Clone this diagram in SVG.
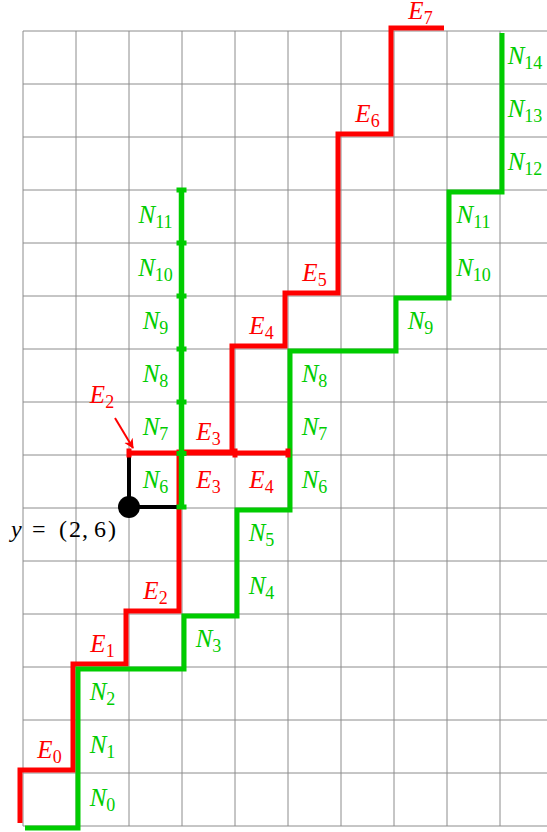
<svg xmlns="http://www.w3.org/2000/svg" width="547" height="832" viewBox="0 0 547 832">
<style>
.grid line{stroke:#8c8c8c;stroke-width:1}
.red{fill:none;stroke:#ff0000;stroke-width:5;stroke-linejoin:miter}
.grn{fill:none;stroke:#00cc00;stroke-width:5;stroke-linejoin:miter}
.blk{fill:none;stroke:#000;stroke-width:4}
text{font-family:"Liberation Serif","Times New Roman","DejaVu Serif",serif}
.lab{font-size:25px;font-style:italic;text-anchor:middle}
.sub{font-size:18px;font-style:normal}
.r{fill:#ff0000}
.g{fill:#00cc00}
.rm{fill:#ff0000}
.gm{fill:#00cc00}
</style>
<defs>
<marker id="ah" viewBox="0 0 10 10" refX="9" refY="5" markerWidth="5" markerHeight="5" orient="auto" markerUnits="strokeWidth">
<path d="M0,0 L10,5 L0,10 L3,5 Z" fill="#ff0000"/>
</marker>
</defs>
<rect width="547" height="832" fill="#fff"/>
<g id="grid" class="grid">
<line x1="23" y1="31" x2="23" y2="826"/>
<line x1="76" y1="31" x2="76" y2="826"/>
<line x1="129" y1="31" x2="129" y2="826"/>
<line x1="182" y1="31" x2="182" y2="826"/>
<line x1="235" y1="31" x2="235" y2="826"/>
<line x1="288" y1="31" x2="288" y2="826"/>
<line x1="341" y1="31" x2="341" y2="826"/>
<line x1="394" y1="31" x2="394" y2="826"/>
<line x1="447" y1="31" x2="447" y2="826"/>
<line x1="500" y1="31" x2="500" y2="826"/>
<line x1="23" y1="31" x2="547" y2="31"/>
<line x1="23" y1="84" x2="547" y2="84"/>
<line x1="23" y1="137" x2="547" y2="137"/>
<line x1="23" y1="190" x2="547" y2="190"/>
<line x1="23" y1="243" x2="547" y2="243"/>
<line x1="23" y1="296" x2="547" y2="296"/>
<line x1="23" y1="349" x2="547" y2="349"/>
<line x1="23" y1="402" x2="547" y2="402"/>
<line x1="23" y1="455" x2="547" y2="455"/>
<line x1="23" y1="508" x2="547" y2="508"/>
<line x1="23" y1="561" x2="547" y2="561"/>
<line x1="23" y1="614" x2="547" y2="614"/>
<line x1="23" y1="667" x2="547" y2="667"/>
<line x1="23" y1="720" x2="547" y2="720"/>
<line x1="23" y1="773" x2="547" y2="773"/>
<line x1="23" y1="826" x2="547" y2="826"/>
</g>
<g id="connectors">
<path id="red-path" class="red" d="M20,823 V770 H73 V664 H126 V611 H179 V452 H232 V346 H285 V293 H338 V134 H391 V28 H444"/>
<path id="green-path" class="grn" d="M25,828 H78 V669 H184 V616 H237 V510 H290 V351 H396 V298 H449 V192 H502 V33"/>
<path id="black-path" class="blk" d="M129,453 V507 H181"/>
<g id="red-bar">
<line x1="129" y1="453" x2="288" y2="453" stroke="#ff0000" stroke-width="5"/>
<rect class="rm" x="126.5" y="448.5" width="5" height="9"/>
<rect class="rm" x="232.5" y="448.5" width="5" height="9"/>
<rect class="rm" x="285.5" y="448.5" width="5" height="9"/>
</g>
<g id="green-column">
<line x1="181.5" y1="190" x2="181.5" y2="507" stroke="#00cc00" stroke-width="5.5"/>
<rect class="gm" x="176.5" y="187.5" width="10" height="5"/>
<rect class="gm" x="176.5" y="240.5" width="10" height="5"/>
<rect class="gm" x="176.5" y="293.5" width="10" height="5"/>
<rect class="gm" x="176.5" y="346.5" width="10" height="5"/>
<rect class="gm" x="176.5" y="399.5" width="10" height="5"/>
<rect class="gm" x="176.5" y="451" width="10" height="5"/>
<rect class="gm" x="176.5" y="504.5" width="10" height="5"/>
</g>
<line id="e2-arrow" x1="115" y1="418" x2="133" y2="448" stroke="#ff0000" stroke-width="2" marker-end="url(#ah)"/>
</g>
<g id="point-y">
<circle cx="129" cy="507" r="11" fill="#000"/>
<text y="537" font-size="24"><tspan x="11" font-style="italic">y</tspan><tspan x="32">=</tspan><tspan x="59">(</tspan><tspan x="69">2</tspan><tspan x="82">,</tspan><tspan x="94">6</tspan><tspan x="108">)</tspan></text>
</g>
<g id="e-labels" class="r">
<text class="lab" x="49.5" y="758">E<tspan class="sub" dy="5">0</tspan></text>
<text class="lab" x="102.5" y="652">E<tspan class="sub" dy="5">1</tspan></text>
<text class="lab" x="155.5" y="599">E<tspan class="sub" dy="5">2</tspan></text>
<text class="lab" x="208.5" y="440">E<tspan class="sub" dy="5">3</tspan></text>
<text class="lab" x="261.5" y="334">E<tspan class="sub" dy="5">4</tspan></text>
<text class="lab" x="314.5" y="281">E<tspan class="sub" dy="5">5</tspan></text>
<text class="lab" x="367.5" y="122">E<tspan class="sub" dy="5">6</tspan></text>
<text class="lab" x="420.5" y="19">E<tspan class="sub" dy="5">7</tspan></text>
<text class="lab" x="208.5" y="488">E<tspan class="sub" dy="5">3</tspan></text>
<text class="lab" x="261.5" y="488">E<tspan class="sub" dy="5">4</tspan></text>
<text class="lab" x="102" y="403">E<tspan class="sub" dy="5">2</tspan></text>
</g>
<g id="n-labels" class="g">
<text class="lab" x="102.5" y="806">N<tspan class="sub" dy="5">0</tspan></text>
<text class="lab" x="102.5" y="753">N<tspan class="sub" dy="5">1</tspan></text>
<text class="lab" x="102.5" y="700">N<tspan class="sub" dy="5">2</tspan></text>
<text class="lab" x="208.5" y="647">N<tspan class="sub" dy="5">3</tspan></text>
<text class="lab" x="261.5" y="594">N<tspan class="sub" dy="5">4</tspan></text>
<text class="lab" x="261.5" y="541">N<tspan class="sub" dy="5">5</tspan></text>
<text class="lab" x="314.5" y="488">N<tspan class="sub" dy="5">6</tspan></text>
<text class="lab" x="314.5" y="435">N<tspan class="sub" dy="5">7</tspan></text>
<text class="lab" x="314.5" y="382">N<tspan class="sub" dy="5">8</tspan></text>
<text class="lab" x="420.5" y="329">N<tspan class="sub" dy="5">9</tspan></text>
<text class="lab" x="473.5" y="276">N<tspan class="sub" dy="5">10</tspan></text>
<text class="lab" x="473.5" y="223">N<tspan class="sub" dy="5">11</tspan></text>
<text class="lab" x="525" y="170">N<tspan class="sub" dy="5">12</tspan></text>
<text class="lab" x="525" y="117">N<tspan class="sub" dy="5">13</tspan></text>
<text class="lab" x="525" y="64">N<tspan class="sub" dy="5">14</tspan></text>
<text class="lab" x="155.5" y="488">N<tspan class="sub" dy="5">6</tspan></text>
<text class="lab" x="155.5" y="435">N<tspan class="sub" dy="5">7</tspan></text>
<text class="lab" x="155.5" y="382">N<tspan class="sub" dy="5">8</tspan></text>
<text class="lab" x="155.5" y="329">N<tspan class="sub" dy="5">9</tspan></text>
<text class="lab" x="155.5" y="276">N<tspan class="sub" dy="5">10</tspan></text>
<text class="lab" x="155.5" y="223">N<tspan class="sub" dy="5">11</tspan></text>
</g>
</svg>
